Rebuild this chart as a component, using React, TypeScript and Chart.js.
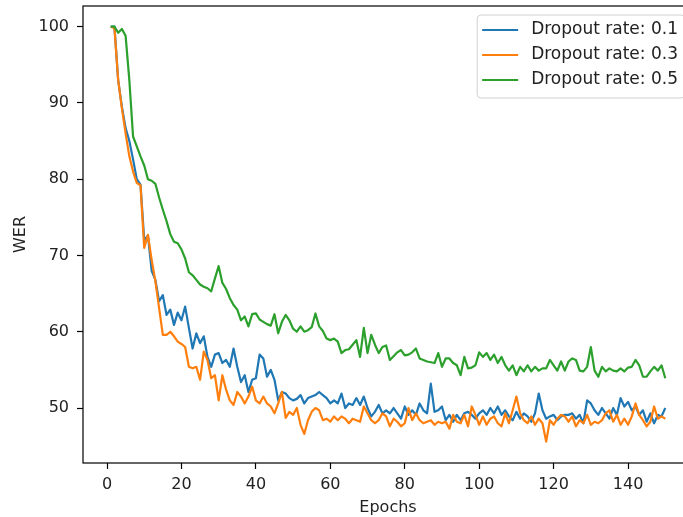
import React, { useEffect, useRef } from 'react';
import { Chart, registerables } from 'chart.js';

Chart.register(...registerables);

// Epoch numbers 1..150 (x categories)
const epochs: number[] = Array.from({ length: 150 }, (_, i) => i + 1);

const seriesLabels = ['Dropout rate: 0.1', 'Dropout rate: 0.3', 'Dropout rate: 0.5'];
const seriesColors = ['#1f77b4', '#ff7f0e', '#2ca02c'];

const werDropout01 = [
  100.0, 100.0, 93.0, 89.5, 86.7, 85.0, 82.6, 80.0, 79.3, 72.0,
  72.6, 68.0, 66.8, 64.0, 64.8, 62.2, 62.9, 60.9, 62.5, 61.5,
  63.3, 60.5, 57.8, 59.8, 58.5, 59.4, 56.7, 55.4, 57.0, 57.2,
  55.9, 56.3, 55.4, 57.8, 55.4, 53.4, 54.3, 52.1, 53.7, 53.9,
  57.0, 56.5, 54.1, 55.0, 53.7, 51.0, 52.1, 51.9, 51.3, 51.0,
  51.2, 51.7, 50.6, 51.3, 51.5, 51.7, 52.1, 51.7, 51.3, 50.6,
  51.0, 50.6, 51.9, 50.0, 50.6, 50.4, 51.3, 50.4, 51.5, 50.0,
  48.9, 49.5, 50.4, 49.3, 49.7, 49.3, 50.0, 49.3, 48.6, 50.2,
  49.1, 49.7, 49.1, 50.6, 49.7, 49.3, 53.2, 49.5, 49.7, 50.2,
  48.4, 49.1, 48.2, 49.1, 48.4, 49.3, 49.5, 49.1, 48.6, 49.3,
  49.7, 49.1, 50.0, 49.3, 50.2, 49.1, 49.7, 48.9, 48.4, 49.5,
  48.6, 49.3, 48.9, 48.2, 49.3, 51.9, 49.7, 48.6, 48.9, 49.1,
  48.4, 48.9, 49.1, 49.1, 49.3, 48.6, 49.1, 48.0, 51.0, 50.6,
  49.7, 49.1, 50.0, 49.3, 48.6, 50.0, 49.1, 51.3, 50.2, 50.8,
  49.7, 50.2, 49.1, 49.7, 48.2, 49.3, 48.0, 49.1, 48.9, 50.0,
];

const werDropout03 = [
  100.0, 99.8, 93.0, 89.3, 86.0, 83.0, 81.0, 79.5, 79.2, 71.0,
  72.7, 69.4, 66.6, 63.1, 59.6, 59.6, 60.0, 59.4, 58.7, 58.4,
  58.0, 55.4, 55.2, 55.4, 53.7, 57.4, 56.3, 53.9, 54.3, 51.0,
  54.3, 52.4, 51.0, 50.4, 52.1, 51.5, 50.6, 51.5, 52.8, 51.0,
  50.6, 51.5, 50.6, 50.2, 49.3, 50.6, 52.1, 48.7, 49.5, 49.1,
  50.0, 47.8, 46.6, 48.4, 49.5, 50.0, 49.7, 48.4, 48.6, 48.2,
  48.9, 48.4, 48.9, 48.6, 48.0, 48.6, 48.4, 48.2, 50.2, 49.3,
  48.4, 48.0, 48.4, 49.3, 48.9, 47.6, 48.6, 48.2, 47.6, 48.0,
  50.0, 48.4, 49.3, 48.4, 48.0, 48.2, 48.4, 47.8, 48.2, 48.0,
  48.2, 47.3, 49.1, 48.2, 48.0, 49.1, 47.6, 50.2, 49.1, 47.8,
  48.9, 47.8, 48.6, 48.9, 48.0, 47.6, 49.3, 48.0, 49.7, 51.5,
  49.3, 48.4, 48.0, 48.9, 47.8, 48.6, 48.0, 45.6, 48.4, 47.8,
  48.6, 49.1, 48.9, 48.2, 48.9, 47.6, 48.4, 48.0, 49.1, 47.8,
  48.2, 48.0, 48.4, 49.3, 49.7, 48.2, 49.1, 47.8, 48.6, 47.8,
  48.9, 50.6, 49.1, 48.4, 47.6, 48.2, 50.2, 48.6, 48.9, 48.6,
];

const werDropout05 = [
  100.0, 100.0, 99.2, 99.7, 98.8, 93.0, 85.6, 84.3, 83.0, 81.8,
  80.0, 79.8, 79.4, 77.6, 76.0, 74.5, 72.8, 71.8, 71.6, 70.8,
  69.6, 67.8, 67.4, 66.8, 66.2, 65.9, 65.7, 65.3, 67.0, 68.6,
  66.4, 65.6, 64.4, 63.5, 62.9, 61.5, 62.0, 60.7, 62.3, 62.4,
  61.6, 61.3, 61.0, 60.8, 62.3, 59.8, 61.3, 62.2, 61.5, 60.4,
  60.0, 60.7, 60.0, 60.2, 60.6, 62.4, 60.7, 60.1, 59.1, 58.9,
  59.1, 58.7, 57.2, 57.6, 57.7, 58.3, 58.9, 56.7, 60.5, 57.2,
  59.6, 58.3, 57.2, 58.0, 58.2, 56.3, 56.8, 57.3, 57.6, 56.9,
  57.0, 57.3, 57.8, 56.5, 56.3, 56.1, 56.0, 55.9, 57.2, 55.4,
  56.5, 56.5, 55.9, 55.6, 54.3, 56.7, 55.2, 55.3, 55.6, 57.3,
  56.7, 57.2, 56.3, 57.0, 55.9, 56.7, 55.6, 54.9, 55.6, 54.3,
  55.4, 54.8, 55.6, 54.8, 55.4, 54.9, 55.2, 55.2, 56.3, 55.6,
  54.9, 56.1, 54.9, 56.1, 56.5, 56.3, 54.9, 54.8, 55.4, 58.0,
  54.9, 54.1, 55.4, 54.8, 55.2, 54.9, 54.8, 55.2, 54.8, 55.3,
  55.4, 56.3, 55.6, 54.1, 54.1, 54.8, 55.4, 54.9, 55.6, 53.9,
];

const xTicks = [0, 20, 40, 60, 80, 100, 120, 140];
const yTicks = [50, 60, 70, 80, 90, 100];
const xLabel = 'Epochs';
const yLabel = 'WER';

const FONT = 'DejaVu Sans';
const TEXT = '#222';

const framePlugin = {
  id: 'framePlugin',
  afterDatasetsDraw(chart: any) {
    const { ctx, chartArea: a } = chart;
    ctx.save();
    // spines
    ctx.strokeStyle = '#000';
    ctx.lineWidth = 1.2;
    ctx.strokeRect(a.left, a.top, a.right - a.left, a.bottom - a.top);

    // legend (matplotlib-like, upper right, inside axes)
    ctx.font = `17px "${FONT}"`;
    const labels = chart.data.datasets.map((d: any) => d.label);
    const textW = Math.max(...labels.map((l: string) => ctx.measureText(l).width));
    const boxRight = a.right - 8;
    const boxTop = a.top + 9;
    const boxLeft = boxRight - textW - 61;
    const boxH = 83;
    const r = 4;
    ctx.beginPath();
    ctx.moveTo(boxLeft + r, boxTop);
    ctx.lineTo(boxRight - r, boxTop);
    ctx.arcTo(boxRight, boxTop, boxRight, boxTop + r, r);
    ctx.lineTo(boxRight, boxTop + boxH - r);
    ctx.arcTo(boxRight, boxTop + boxH, boxRight - r, boxTop + boxH, r);
    ctx.lineTo(boxLeft + r, boxTop + boxH);
    ctx.arcTo(boxLeft, boxTop + boxH, boxLeft, boxTop + boxH - r, r);
    ctx.lineTo(boxLeft, boxTop + r);
    ctx.arcTo(boxLeft, boxTop, boxLeft + r, boxTop, r);
    ctx.closePath();
    ctx.fillStyle = 'rgba(255,255,255,0.8)';
    ctx.fill();
    ctx.strokeStyle = '#d0d0d0';
    ctx.lineWidth = 1;
    ctx.stroke();

    chart.data.datasets.forEach((d: any, i: number) => {
      const y = boxTop + 15 + i * 25;
      ctx.strokeStyle = d.borderColor;
      ctx.lineWidth = 2.2;
      ctx.beginPath();
      ctx.moveTo(boxLeft + 5, y);
      ctx.lineTo(boxLeft + 41, y);
      ctx.stroke();
      ctx.fillStyle = TEXT;
      ctx.textBaseline = 'middle';
      ctx.textAlign = 'left';
      ctx.fillText(d.label, boxLeft + 54, y);
    });
    ctx.restore();
  },
};

export default function App() {
  const ref = useRef<HTMLCanvasElement>(null);

  useEffect(() => {
    if (!ref.current) return;
    const series = [werDropout01, werDropout03, werDropout05];
    const chart = new Chart(ref.current, {
      type: 'line',
      data: {
        datasets: series.map((vals, i) => ({
          label: seriesLabels[i],
          data: epochs.map((e, j) => ({ x: e, y: vals[j] })),
          borderColor: seriesColors[i],
          backgroundColor: seriesColors[i],
          borderWidth: 2.2,
          pointRadius: 0,
          tension: 0,
          borderJoinStyle: 'round',
          fill: false,
          order: 3 - i,
        })),
      },
      options: {
        responsive: false,
        animation: false,
        devicePixelRatio: 1,
        layout: { padding: { top: 6, right: 7, left: 0, bottom: 0 } },
        plugins: {
          legend: { display: false },
          tooltip: { enabled: false },
        },
        scales: {
          x: {
            type: 'linear',
            min: -6.45,
            max: 157.45,
            afterBuildTicks: (s: any) => {
              s.ticks = xTicks.map((v) => ({ value: v }));
            },
            afterFit: (s: any) => {
              s.height = 54;
              s.paddingLeft = 0;
              s.paddingRight = 0;
            },
            grid: {
              display: true,
              drawOnChartArea: false,
              drawTicks: true,
              tickLength: 6,
              tickColor: '#000',
              tickWidth: 1.2,
            },
            border: { display: false },
            ticks: {
              font: { family: FONT, size: 16 },
              color: TEXT,
              padding: 6,
              maxRotation: 0,
              autoSkip: false,
            },
            title: {
              display: true,
              text: xLabel,
              font: { family: FONT, size: 16 },
              color: TEXT,
              padding: { top: 0, bottom: 0 },
            },
          },
          y: {
            type: 'linear',
            min: 42.79,
            max: 102.71,
            afterBuildTicks: (s: any) => {
              s.ticks = yTicks.map((v) => ({ value: v }));
            },
            afterFit: (s: any) => {
              s.width = 83;
              s.paddingTop = 0;
              s.paddingBottom = 0;
            },
            grid: {
              display: true,
              drawOnChartArea: false,
              drawTicks: true,
              tickLength: 6,
              tickColor: '#000',
              tickWidth: 1.2,
            },
            border: { display: false },
            ticks: {
              font: { family: FONT, size: 16 },
              color: TEXT,
              padding: 8,
              autoSkip: false,
            },
            title: {
              display: true,
              text: yLabel,
              font: { family: FONT, size: 16 },
              color: TEXT,
              padding: { top: 11, bottom: 0 },
            },
          },
        },
      },
      plugins: [framePlugin],
    } as any);
    return () => chart.destroy();
  }, []);

  return (
    <div
      style={{
        position: 'fixed',
        left: 0,
        top: 0,
        width: 683,
        height: 517,
        overflow: 'hidden',
        background: '#fff',
      }}
    >
      <canvas ref={ref} width={700} height={517} style={{ display: 'block', width: 700, height: 517 }} />
    </div>
  );
}
